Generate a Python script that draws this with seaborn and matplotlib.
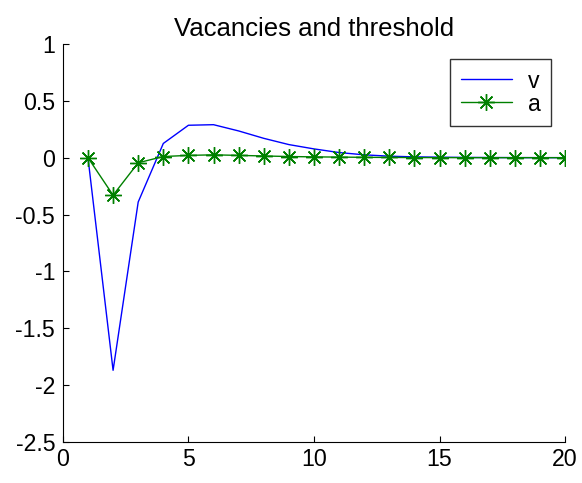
import numpy as np
import pandas as pd
import seaborn as sns
import matplotlib.pyplot as plt

# values
steps = list(range(1, 21))
v_vals = [0, -1.87, -0.39, 0.125, 0.285, 0.29, 0.235, 0.17, 0.115, 0.077,
          0.045, 0.025, 0.013, 0.007, 0.004, 0.002, 0.001, 0.0005, 0.0002, 0.0001]
a_vals = [0, -0.33, -0.045, 0.01, 0.02, 0.025, 0.02, 0.015, 0.01, 0.007,
          0.005, 0.003, 0.002, 0.001, 0.0005, 0.0003, 0.0002, 0.0001, 0.0, 0.0]

df = pd.DataFrame({"t": steps, "v": v_vals, "a": a_vals})

sns.set_style("ticks")
plt.rcParams["font.family"] = ["Liberation Sans", "DejaVu Sans"]

fig = plt.figure(figsize=(5.82, 4.83), dpi=100)
ax = fig.add_axes([0.108, 0.085, 0.863, 0.824])

sns.lineplot(data=df, x="t", y="v", ax=ax, color="#0000ff", linewidth=1.0, label="v")
sns.lineplot(data=df, x="t", y="a", ax=ax, color="#008000", linewidth=1.0,
             marker=(8, 2, 0), markersize=12, markeredgewidth=1.0,
             markeredgecolor="#008000", label="a")

ax.set_xlim(0, 20)
ax.set_ylim(-2.5, 1)
ax.set_xticks([0, 5, 10, 15, 20])
ax.set_yticks([-2.5, -2, -1.5, -1, -0.5, 0, 0.5, 1])
ax.set_yticklabels(["-2.5", "-2", "-1.5", "-1", "-0.5", "0", "0.5", "1"])
ax.tick_params(direction="in", labelsize=16.7, length=4, width=0.8, colors="black")
ax.tick_params(axis="y", pad=5.5)
ax.tick_params(axis="x", pad=4)
ax.set_xlabel("")
ax.set_ylabel("")
sns.despine(ax=ax)
for s in ["left", "bottom"]:
    ax.spines[s].set_color("black")
    ax.spines[s].set_linewidth(0.8)

ax.set_title("Vacancies and threshold", fontsize=18.5, pad=6, color="black")

leg = ax.legend(loc="upper right", bbox_to_anchor=(0.972, 0.962), borderaxespad=0,
                fontsize=16.7, frameon=True, fancybox=False, edgecolor="black",
                handlelength=2.2, borderpad=0.45, labelspacing=0.0,
                handletextpad=0.7)
leg.get_frame().set_linewidth(1.0)
for t in leg.get_texts():
    t.set_color("black")

fig.savefig("out.png", dpi=100)
